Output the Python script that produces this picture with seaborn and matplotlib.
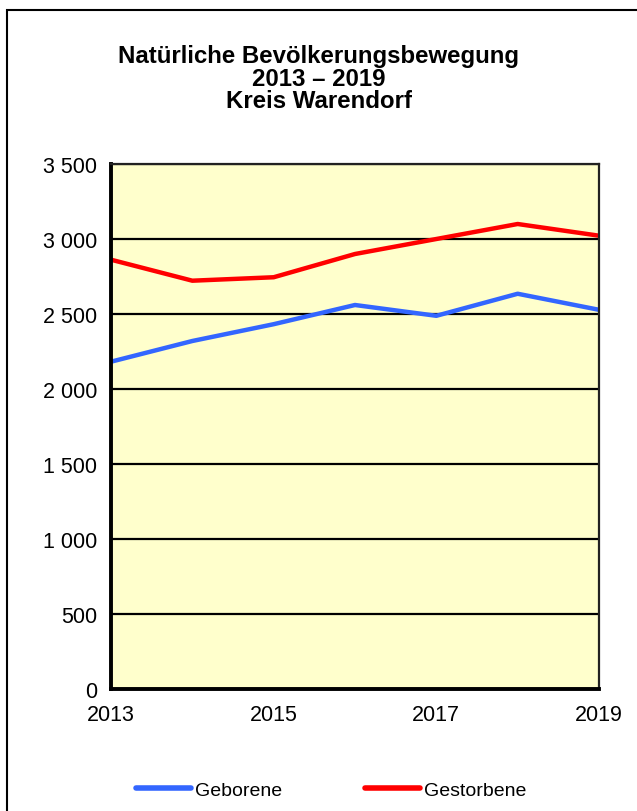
import matplotlib
matplotlib.use("Agg")
import matplotlib.pyplot as plt
import seaborn as sns
import pandas as pd
from matplotlib.patches import Rectangle
from matplotlib.ticker import FuncFormatter

years = [2013, 2014, 2015, 2016, 2017, 2018, 2019]
geborene = [2182, 2320, 2432, 2560, 2488, 2635, 2528]
gestorbene = [2862, 2722, 2745, 2900, 3000, 3100, 3022]
series_names = ["Geborene", "Gestorbene"]
series_colors = ["#3366FF", "#FF0000"]
title_lines = ["Natürliche Bevölkerungsbewegung", "2013 – 2019", "Kreis Warendorf"]

df = pd.DataFrame({"Jahr": years * 2,
                   "Wert": geborene + gestorbene,
                   "Reihe": [series_names[0]] * len(years) + [series_names[1]] * len(years)})

sns.set_style("white")
plt.rcParams['font.family'] = ['Liberation Sans', 'DejaVu Sans']
plt.rcParams['text.color'] = 'black'
plt.rcParams['xtick.color'] = 'black'
plt.rcParams['ytick.color'] = 'black'

fig = plt.figure(figsize=(6.37, 8.12), dpi=100)
ax = fig.add_axes([111 / 637, 1 - 690 / 812, 488 / 637, 525 / 812])
ax.set_facecolor("#FFFFCC")

# outer frame
fig.patches.append(Rectangle((7 / 637, -0.1), 1.0, 1 - 11 / 812 + 0.1, transform=fig.transFigure,
                             fill=False, edgecolor="black", linewidth=1.5))

sns.lineplot(data=df, x="Jahr", y="Wert", hue="Reihe", palette=series_colors,
             linewidth=3.2, ax=ax, legend=False)

ax.set_xlim(2013, 2019)
ax.set_ylim(0, 3500)
ax.set_yticks(range(0, 3501, 500))
ax.yaxis.set_major_formatter(FuncFormatter(lambda v, p: f"{int(v):,}".replace(",", " ")))
ax.set_xticks(years)
ax.set_xticklabels([str(y) if (y - 2013) % 2 == 0 else "" for y in years])
ax.grid(axis="y", color="black", linewidth=1.6)
ax.set_axisbelow(True)
ax.set_xlabel("")
ax.set_ylabel("")
ax.tick_params(axis="both", direction="out", length=6, width=1.8, colors="black",
               labelsize=15.5, pad=4)
ax.tick_params(axis="x", pad=5)

for side in ["left", "bottom"]:
    ax.spines[side].set_linewidth(2.8)
    ax.spines[side].set_color("black")
for side in ["top", "right"]:
    ax.spines[side].set_visible(True)
    ax.spines[side].set_linewidth(1.6)
    ax.spines[side].set_color("#222222")

for i, line in enumerate(title_lines):
    fig.text(0.5, 1 - (57 + 22 * i) / 812, line, ha="center", va="center",
             fontsize=17.3, fontweight="bold", color="black")

handles = [plt.Line2D([], [], color=c, linewidth=4, solid_capstyle="round") for c in series_colors]
fig.legend(handles, series_names, loc="center", bbox_to_anchor=(0.52, 1 - 791 / 812), ncol=2,
           frameon=False, fontsize=14, handlelength=2.8, handletextpad=0.2, columnspacing=4.3,
           labelcolor="black")

fig.savefig("out.png", dpi=100)
